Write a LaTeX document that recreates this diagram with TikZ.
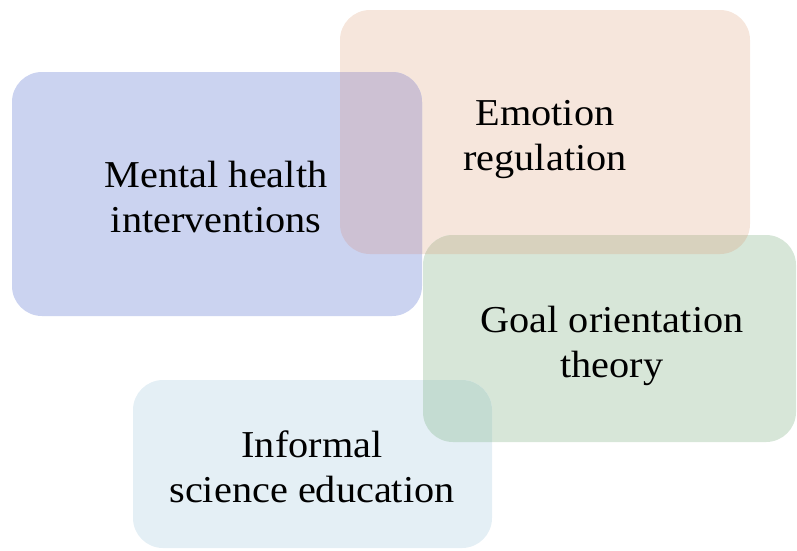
\documentclass[tikz,border=0pt]{standalone}
\usepackage{fontspec}
\setmainfont{Liberation Serif}[FakeStretch=1.06]
\definecolor{boxblue}{RGB}{203,211,240}
\definecolor{boxorange}{RGB}{246,230,220}
\definecolor{boxgreen}{RGB}{215,230,216}
\definecolor{boxsky}{RGB}{228,239,245}
\definecolor{mixblueorange}{RGB}{205,193,211}
\definecolor{mixorangegreen}{RGB}{216,210,190}
\definecolor{mixgreensky}{RGB}{196,220,210}
\begin{document}
\begin{tikzpicture}[x=1pt,y=-1pt,
  panel/.style={rounded corners=30pt},
  caption/.style={font=\fontsize{38}{45}\selectfont, align=center, anchor=base, text=black, inner sep=0pt}]
\useasboundingbox (0,0) rectangle (797,550);

% the four topic panels
\fill[boxorange, panel] (340,10) rectangle (750,254);
\fill[boxblue, panel] (12,72) rectangle (422,316);
\fill[boxgreen, panel] (423,235) rectangle (796,442);
\fill[boxsky, panel] (133,380) rectangle (492,548);

% shaded overlaps between neighbouring panels
\begin{scope}
  \clip[panel] (340,10) rectangle (750,254);
  \fill[mixblueorange, panel] (12,72) rectangle (422,316);
  \fill[mixorangegreen, panel] (423,235) rectangle (796,442);
\end{scope}
\begin{scope}
  \clip[panel] (423,235) rectangle (796,442);
  \fill[mixgreensky, panel] (133,380) rectangle (492,548);
\end{scope}

% panel captions (anchored on the baseline of the last line)
\node[caption] (mental) at (216,232) {Mental health\\interventions};
\node[caption] (emotion) at (545,170) {Emotion\\regulation};
\node[caption] (goal) at (612,377) {Goal orientation\\theory};
\node[caption] (informal) at (312,502) {Informal\\science education};
\end{tikzpicture}
\end{document}
